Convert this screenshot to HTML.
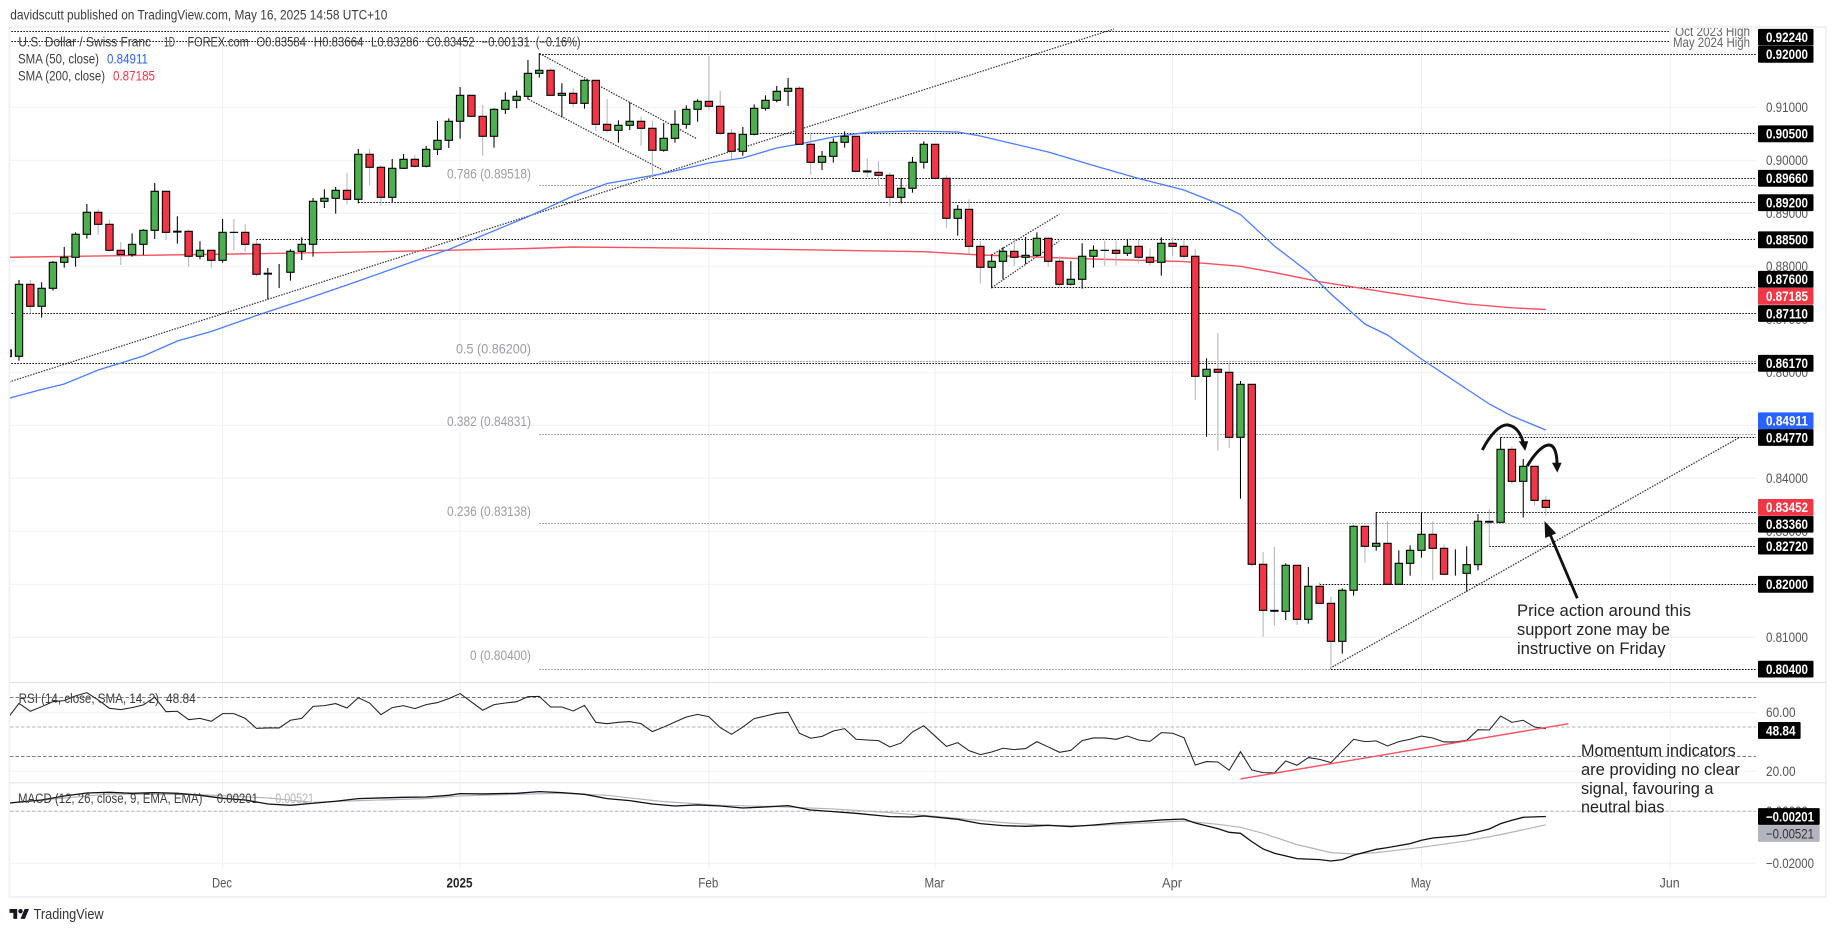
<!DOCTYPE html>
<html lang="en">
<head>
<meta charset="utf-8">
<title>USD/CHF daily chart</title>
<style>
html,body{margin:0;padding:0;background:#fff;width:1835px;height:932px;overflow:hidden}
svg{display:block;font-family:"Liberation Sans",sans-serif}
</style>
</head>
<body>
<svg id="chart" xmlns="http://www.w3.org/2000/svg" width="1835" height="932" viewBox="0 0 1835 932">
  <defs>
    <clipPath id="clip-main"><rect x="10" y="28" width="1746" height="654"/></clipPath>
    <clipPath id="clip-rsi"><rect x="10" y="683" width="1746" height="99"/></clipPath>
    <clipPath id="clip-macd"><rect x="10" y="783" width="1746" height="86"/></clipPath>
  </defs>
  <rect width="1835" height="932" fill="#fff"/>
  <text x="10.3" y="19.5" font-size="13.5" fill="#3c3c3c" textLength="377" lengthAdjust="spacingAndGlyphs">davidscutt published on TradingView.com, May 16, 2025 14:58 UTC+10</text>
  <g id="frame" fill="#eff1f5">
    <rect x="9" y="26" width="1818" height="2"/>
    <rect x="8.5" y="26" width="1.6" height="872"/>
    <rect x="1825" y="26" width="2" height="872"/>
    <rect x="9" y="896" width="1818" height="2"/>
  </g>
  <g id="grid"></g>
  <rect x="9" y="682" width="1817" height="1" fill="#e0e3eb"/>
  <rect x="9" y="782.3" width="1817" height="1" fill="#e0e3eb"/>
  <g id="levels" clip-path="url(#clip-main)"></g>
  <g clip-path="url(#clip-main)" fill="none" stroke="#333" stroke-width="1.2" stroke-dasharray="1.5 1.3">
    <line x1="9" y1="382" x2="1114" y2="29"/>
    <line x1="539.6" y1="53.5" x2="696" y2="138.3"/>
    <line x1="528.5" y1="99.3" x2="662.6" y2="170"/>
    <line x1="991.7" y1="255" x2="1059.3" y2="214.3"/>
    <line x1="991.7" y1="287.7" x2="1059.3" y2="241"/>
    <line x1="1330" y1="668.3" x2="1739.8" y2="437.3"/>
  </g>
  <g id="smas" clip-path="url(#clip-main)"></g>
  <g id="candles" clip-path="url(#clip-main)"></g>
  <g id="rsi" clip-path="url(#clip-rsi)"></g>
  <g id="macd" clip-path="url(#clip-macd)"></g>

  <g font-size="13.5" fill="#3c3c3c">
    <text x="18.4" y="46.5" textLength="132.6" lengthAdjust="spacingAndGlyphs">U.S. Dollar / Swiss Franc</text>
    <text x="164" y="46.5" textLength="11" lengthAdjust="spacingAndGlyphs">1D</text>
    <text x="187.5" y="46.5" textLength="61.3" lengthAdjust="spacingAndGlyphs">FOREX.com</text>
    <text x="256.4" y="46.5" textLength="49.6" lengthAdjust="spacingAndGlyphs">O0.83584</text>
    <text x="313.8" y="46.5" textLength="49.7" lengthAdjust="spacingAndGlyphs">H0.83664</text>
    <text x="371" y="46.5" textLength="47.7" lengthAdjust="spacingAndGlyphs">L0.83286</text>
    <text x="426.7" y="46.5" textLength="47.8" lengthAdjust="spacingAndGlyphs">C0.83452</text>
    <text x="481.4" y="46.5" textLength="48.6" lengthAdjust="spacingAndGlyphs">−0.00131</text>
    <text x="535.8" y="46.5" textLength="44.7" lengthAdjust="spacingAndGlyphs">(−0.16%)</text>
    <text x="18" y="63.5" textLength="81" lengthAdjust="spacingAndGlyphs">SMA (50, close)</text>
    <text x="107" y="63.5" fill="#2962ff" textLength="41" lengthAdjust="spacingAndGlyphs">0.84911</text>
    <text x="18" y="80.5" textLength="87" lengthAdjust="spacingAndGlyphs">SMA (200, close)</text>
    <text x="113" y="80.5" fill="#f23645" textLength="42" lengthAdjust="spacingAndGlyphs">0.87185</text>
    <text x="18.6" y="703" textLength="140.4" lengthAdjust="spacingAndGlyphs">RSI (14, close, SMA, 14, 2)</text>
    <text x="166" y="703" textLength="29.7" lengthAdjust="spacingAndGlyphs">48.84</text>
    <text x="18" y="803" textLength="184.5" lengthAdjust="spacingAndGlyphs">MACD (12, 26, close, 9, EMA, EMA)</text>
    <text x="216.7" y="803" textLength="41.3" lengthAdjust="spacingAndGlyphs">0.00201</text>
    <text x="269" y="803" fill="#b2b5be" textLength="45" lengthAdjust="spacingAndGlyphs">−0.00521</text>
  </g>

  <g font-size="13.5" fill="#9a9da6" text-anchor="end">
    <text x="531" y="178.5" textLength="84" lengthAdjust="spacingAndGlyphs">0.786 (0.89518)</text>
    <text x="531" y="353.5" textLength="75" lengthAdjust="spacingAndGlyphs">0.5 (0.86200)</text>
    <text x="531" y="426" textLength="84" lengthAdjust="spacingAndGlyphs">0.382 (0.84831)</text>
    <text x="531" y="516" textLength="84" lengthAdjust="spacingAndGlyphs">0.236 (0.83138)</text>
    <text x="531" y="660" textLength="61" lengthAdjust="spacingAndGlyphs">0 (0.80400)</text>
  </g>
  <g font-size="13.5" fill="#666" clip-path="url(#clip-main)">
    <text x="1675" y="36" textLength="75" lengthAdjust="spacingAndGlyphs">Oct 2023 High</text>
    <text x="1673" y="47" textLength="77" lengthAdjust="spacingAndGlyphs">May 2024 High</text>
  </g>

  <g font-size="17" fill="#222">
    <path d="M1482.3 450C1490 435 1500 424 1508 425C1516 426 1521 434 1523 442" fill="none" stroke="#111" stroke-width="3"/>
    <polygon points="1518.8,441.2 1528.2,441.2 1525.2,451" fill="#111"/>
    <path d="M1527.3 466C1533 456 1542 445 1549 445C1555 445 1557 455 1557 464" fill="none" stroke="#111" stroke-width="3"/>
    <polygon points="1552,462.8 1561.6,462.8 1557.3,472.6" fill="#111"/>
    <line x1="1577.3" y1="598.3" x2="1549.5" y2="533" stroke="#111" stroke-width="2.8"/>
    <polygon points="1544.5,521 1556.2,533.4 1545.2,538" fill="#111"/>
    <text x="1517" y="616" textLength="174" lengthAdjust="spacingAndGlyphs">Price action around this</text>
    <text x="1517" y="635" textLength="153" lengthAdjust="spacingAndGlyphs">support zone may be</text>
    <text x="1517" y="654" textLength="148.5" lengthAdjust="spacingAndGlyphs">instructive on Friday</text>
    <text x="1581" y="756" textLength="154.7" lengthAdjust="spacingAndGlyphs">Momentum indicators</text>
    <text x="1581" y="775" textLength="158.8" lengthAdjust="spacingAndGlyphs">are providing no clear</text>
    <text x="1581" y="794" textLength="132.4" lengthAdjust="spacingAndGlyphs">signal, favouring a</text>
    <text x="1581" y="812.7" textLength="83.4" lengthAdjust="spacingAndGlyphs">neutral bias</text>
  </g>

  <g id="axis"></g>
  <g id="bubbles"></g>

  <g>
    <g transform="translate(9.5 906.8) scale(.55)" fill="#131722">
      <path d="M14 22H7V11H0V4h14v18zM28 22h-8l7.5-18h8L28 22z"/>
      <circle cx="20" cy="8" r="4"/>
    </g>
    <text x="33.6" y="919" font-size="15" fill="#333" textLength="70" lengthAdjust="spacingAndGlyphs">TradingView</text>
  </g>
</svg>

<script>
// ---------- chart data ----------
const priceOpen = [0.86421,0.86302,0.87660,0.87245,0.87585,0.88075,0.88170,0.88604,0.89019,0.88792,0.88302,0.88220,0.88415,0.88679,0.89415,0.88646,0.88660,0.88189,0.88302,0.88113,0.88641,0.88641,0.88415,0.87853,0.87887,0.87887,0.88283,0.88415,0.89226,0.89283,0.89434,0.89264,0.90113,0.89868,0.89302,0.89849,0.90019,0.89887,0.90207,0.90377,0.90736,0.91226,0.90830,0.90453,0.90962,0.91132,0.91207,0.91641,0.91698,0.91226,0.91264,0.91075,0.91509,0.90679,0.90566,0.90660,0.90736,0.90604,0.90189,0.90415,0.90679,0.90962,0.91113,0.91019,0.90509,0.90170,0.90490,0.90981,0.91132,0.91302,0.91358,0.90302,0.89962,0.90075,0.90339,0.90453,0.89799,0.89773,0.89717,0.89302,0.89472,0.89962,0.90302,0.89660,0.88906,0.89075,0.88377,0.87981,0.88094,0.88283,0.88170,0.88207,0.88528,0.88094,0.87660,0.87755,0.88189,0.88302,0.88302,0.88245,0.88377,0.88170,0.88075,0.88434,0.88377,0.88189,0.85924,0.86057,0.86000,0.84773,0.85773,0.82377,0.81508,0.81490,0.82358,0.81339,0.81962,0.81641,0.80924,0.81887,0.83094,0.82717,0.82773,0.82000,0.82396,0.82641,0.82943,0.82679,0.82201,0.82207,0.82371,0.83188,0.83170,0.84547,0.83943,0.84226,0.83584];
const priceHigh = [0.86421,0.87742,0.87742,0.87698,0.88101,0.88365,0.88641,0.89176,0.89075,0.88874,0.88459,0.88622,0.88698,0.89572,0.89415,0.88943,0.88698,0.88472,0.88302,0.88893,0.88893,0.88799,0.88497,0.87968,0.88044,0.88321,0.88547,0.89289,0.89453,0.89497,0.89761,0.90214,0.90214,0.89912,0.90025,0.90119,0.90100,0.90270,0.90742,0.90792,0.91383,0.91226,0.91044,0.90981,0.91283,0.91314,0.91893,0.92019,0.91736,0.91453,0.91358,0.91528,0.91509,0.91157,0.90755,0.91094,0.90824,0.90742,0.90704,0.90943,0.91038,0.91151,0.91968,0.91308,0.90585,0.90629,0.91056,0.91226,0.91402,0.91553,0.91402,0.90509,0.90176,0.90415,0.90547,0.90453,0.90044,0.89981,0.89773,0.89660,0.90063,0.90358,0.90302,0.89717,0.89157,0.89264,0.88472,0.88226,0.88358,0.88534,0.88553,0.88641,0.88547,0.88195,0.88101,0.88434,0.88396,0.88484,0.88484,0.88509,0.88497,0.88339,0.88547,0.88547,0.88490,0.88327,0.86264,0.86742,0.86170,0.85836,0.85773,0.82610,0.82704,0.82396,0.82358,0.82327,0.82038,0.81767,0.81924,0.83113,0.83094,0.83358,0.83189,0.82641,0.82736,0.83358,0.83189,0.82755,0.82660,0.82717,0.83327,0.83415,0.84773,0.84604,0.84365,0.84226,0.83664];
const priceLow = [0.86296,0.86220,0.87113,0.87031,0.87541,0.87975,0.87994,0.88522,0.88597,0.88277,0.88025,0.88182,0.88214,0.88516,0.88497,0.88428,0.87994,0.88132,0.87975,0.88069,0.88308,0.88264,0.87805,0.87377,0.87591,0.87729,0.88119,0.88182,0.89100,0.88994,0.89163,0.89189,0.89522,0.89145,0.89207,0.89836,0.89861,0.89868,0.90100,0.90233,0.90409,0.90811,0.90088,0.90239,0.90874,0.90981,0.91151,0.91560,0.91220,0.90811,0.91012,0.90975,0.90553,0.90522,0.90333,0.90572,0.90270,0.89692,0.90163,0.90333,0.90597,0.90729,0.90937,0.90478,0.90025,0.90088,0.90472,0.90937,0.91094,0.91025,0.90296,0.89729,0.89817,0.89956,0.90239,0.89773,0.89685,0.89534,0.89126,0.89189,0.89390,0.89843,0.89654,0.88723,0.88578,0.88245,0.87673,0.87585,0.87755,0.88006,0.88038,0.88182,0.87994,0.87604,0.87641,0.87578,0.87975,0.88012,0.88012,0.88195,0.88056,0.88012,0.87824,0.88189,0.88132,0.85478,0.84786,0.84522,0.84572,0.83616,0.82333,0.81012,0.81220,0.81327,0.81233,0.81258,0.81641,0.80415,0.80692,0.81786,0.82409,0.82635,0.82000,0.82000,0.82163,0.82503,0.82075,0.82170,0.82163,0.81861,0.82264,0.82717,0.83170,0.83887,0.83258,0.83484,0.83286];
const priceClose = [0.86296,0.87660,0.87245,0.87585,0.88075,0.88170,0.88604,0.89019,0.88792,0.88302,0.88220,0.88415,0.88679,0.89415,0.88641,0.88662,0.88189,0.88302,0.88113,0.88641,0.88640,0.88415,0.87849,0.87869,0.87887,0.88283,0.88415,0.89226,0.89283,0.89434,0.89264,0.90113,0.89868,0.89302,0.89849,0.90019,0.89887,0.90207,0.90377,0.90736,0.91226,0.90830,0.90453,0.90962,0.91132,0.91207,0.91641,0.91698,0.91226,0.91264,0.91075,0.91509,0.90679,0.90566,0.90660,0.90736,0.90604,0.90189,0.90415,0.90679,0.90962,0.91113,0.91019,0.90509,0.90170,0.90490,0.90981,0.91132,0.91302,0.91358,0.90302,0.89962,0.90075,0.90339,0.90453,0.89792,0.89780,0.89717,0.89302,0.89472,0.89962,0.90302,0.89660,0.88906,0.89075,0.88377,0.87981,0.88094,0.88283,0.88170,0.88207,0.88528,0.88094,0.87660,0.87755,0.88189,0.88302,0.88300,0.88245,0.88377,0.88170,0.88075,0.88434,0.88377,0.88189,0.85924,0.86057,0.86000,0.84773,0.85773,0.82377,0.81509,0.81492,0.82358,0.81339,0.81962,0.81641,0.80924,0.81887,0.83094,0.82717,0.82773,0.82000,0.82396,0.82641,0.82943,0.82679,0.82189,0.82201,0.82371,0.83189,0.83172,0.84547,0.83943,0.84226,0.83584,0.83452];

const sma50Bars = [0,3,5,8,12,15,18,22,26,30,37,39,46,50,53,58,62,65,68,70,73,76,80,84,86,89,92,96,100,104,107,109,112,115,117,120,122,125,128,131,133,136];
const sma50Values = [0.85504,0.85675,0.85779,0.86043,0.86308,0.86591,0.8677,0.87072,0.87355,0.87647,0.88175,0.88317,0.88936,0.89326,0.89562,0.89751,0.89949,0.90043,0.90232,0.90308,0.9044,0.90528,0.90553,0.90534,0.90458,0.90308,0.90157,0.89902,0.89657,0.8944,0.89185,0.88977,0.88383,0.87892,0.87477,0.86911,0.86704,0.86251,0.85826,0.85402,0.85175,0.84911];
const sma200Bars = [0,20,33,46,50,60,70,81,86,96,104,109,112,116,122,129,133,136];
const sma200Values = [0.8817,0.88232,0.88275,0.88336,0.88364,0.88345,0.88313,0.88275,0.88213,0.88138,0.8809,0.88,0.87883,0.87709,0.87506,0.87289,0.87217,0.87185];

const rsiValues = [55.9,66.1,60.7,63.8,67.2,67.9,71.1,73.3,68.4,62.7,61.8,63.2,65,70.2,60.4,60.7,55,55.9,53.9,59.1,59.1,55.9,49.1,49.4,49.4,54.6,55.9,64,64.5,65.9,62.9,69.9,66.3,58.4,63.2,64.5,62.5,65.2,66.6,69.3,72.7,67,61.4,65.2,66.3,67.2,70.6,70.8,63.6,63.6,60.9,64.7,53.2,52.3,53.2,53.7,52.3,46.9,50,53.4,56.8,58.6,57,49.6,45.1,50,55.7,57.5,59.3,60,45.8,42.4,43.7,47.3,48.9,41.7,41.2,40.8,36.5,39.2,46.7,50.9,43.9,36.9,39.4,34,31.3,33.1,35.6,34.7,35.4,40.1,36.5,32.9,34.2,40.8,42.6,42.6,41.7,43.9,41.2,40.3,46.2,45.8,42.8,24.3,26.6,26.3,20.7,33.3,20.9,19.1,18.9,27,24.1,29.3,28.1,25.9,33.8,41.7,40.1,40.6,37.2,40.1,41.7,43.9,42.6,39.9,39.9,41,48.2,48,57.5,53.2,54.6,50,48.84];

const macdBars = [0,1,3,5,7,9,11,13,15,17,19,21,23,25,27,29,31,33,35,37,39,40,42,45,47,49,51,53,55,57,59,61,63,65,67,69,71,73,75,78,80,81,84,86,88,90,92,94,96,98,100,102,104,105,107,108,109,110,111,112,114,116,117,118,119,121,122,124,125,126,128,129,131,132,133,134,135,136];
const macdValues = [0.00308,0.00359,0.00436,0.0059,0.00705,0.00731,0.00692,0.00718,0.00692,0.00615,0.005,0.00436,0.00282,0.00231,0.00308,0.00385,0.00487,0.00513,0.00538,0.00551,0.00615,0.00679,0.00667,0.00692,0.00756,0.00718,0.00654,0.00487,0.0041,0.00282,0.00205,0.00244,0.00205,0.00128,0.00167,0.00218,0.00051,-0.00013,-0.00077,-0.00205,-0.00218,-0.00179,-0.00308,-0.00474,-0.00551,-0.00577,-0.00538,-0.0059,-0.00526,-0.00449,-0.00397,-0.00333,-0.00295,-0.00449,-0.00667,-0.00808,-0.00846,-0.01167,-0.01449,-0.01615,-0.01821,-0.01859,-0.0191,-0.01859,-0.01692,-0.01462,-0.01397,-0.01244,-0.01115,-0.01026,-0.00949,-0.00897,-0.00679,-0.00474,-0.00346,-0.00231,-0.00215,-0.00201];
const signalBars = [0,9,17,23,27,31,37,40,45,49,53,55,58,63,68,73,78,83,88,92,96,100,104,107,109,111,114,117,119,121,125,129,132,136];
const signalValues = [0.00308,0.00667,0.00641,0.00513,0.00346,0.0041,0.00487,0.0059,0.00654,0.00692,0.00615,0.00513,0.00372,0.00231,0.00179,0.0009,-0.00051,-0.00231,-0.00436,-0.00538,-0.00551,-0.00462,-0.00372,-0.005,-0.00615,-0.00846,-0.01282,-0.0159,-0.01641,-0.0159,-0.01385,-0.01141,-0.00897,-0.00521];

const priceTicks = [0.91,0.90,0.89,0.88,0.87,0.86,0.85,0.84,0.83,0.82,0.81];
const priceTickLabels = ['0.91000','0.90000','0.89000','0.88000','0.87000','0.86000','0.85000','0.84000','0.83000','0.82000','0.81000'];
const rsiTicks = [60,20];
const rsiTickLabels = ['60.00','20.00'];
const rsiBands = [70,50,30];
const macdTicks = [0,-0.02];
const macdTickLabels = ['0.00000','−0.02000'];
const timeTickBars = [19,40,62,82,103,125,147];
const timeTickLabels = ['Dec','2025','Feb','Mar','Apr','May','Jun'];

const levelPrices = [0.9243,0.9224,0.92,0.905,0.8966,0.892,0.885,0.876,0.8711,0.8617,0.8477,0.8336,0.8272,0.82,0.804];
const levelStartBars = [-1,-1,47,65.7,57,31,22,87,-1,-1,132,121,131,116,117];
const fibPrices = [0.89518,0.862,0.84831,0.83138,0.804];
const fibStartBar = 47;

const levelTagValues = [0.9224,0.92,0.905,0.8966,0.892,0.885,0.876,0.8711,0.8617,0.8477,0.8336,0.8272,0.82,0.804];
const levelTagLabels = ['0.92240','0.92000','0.90500','0.89660','0.89200','0.88500','0.87600','0.87110','0.86170','0.84770','0.83360','0.82720','0.82000','0.80400'];
const sma50Last = 0.84911;
const sma200Last = 0.87185;
const closeLast = 0.83452;
const rsiLast = 48.84;
const macdLast = -0.00201;
const signalLast = -0.00521;
const rsiTrendBars = [109,138];
const rsiTrendValues = [14.8,52.3];

// ---------- axis functions ----------
const xOf = i => 7.69 + 11.31 * i;
const yPrice = p => 319.3 + (0.87 - p) * 5300;
const yRsi = v => 712.3 + (60 - v) * 1.475;
const yMacd = v => 811.3 - v * 2600;
const AXIS_RIGHT = 1756;

const NS = 'http://www.w3.org/2000/svg';
function mk(tag, attrs, parent) {
  const el = document.createElementNS(NS, tag);
  for (const k in attrs) el.setAttribute(k, attrs[k]);
  parent.appendChild(el);
  return el;
}
function pointsOf(bars, vals, yFn) {
  return bars.map((b, j) => xOf(b).toFixed(2) + ',' + yFn(vals[j]).toFixed(2)).join(' ');
}
const gGrid = document.getElementById('grid');
const gLevels = document.getElementById('levels');
const gSmas = document.getElementById('smas');
const gCandles = document.getElementById('candles');
const gRsi = document.getElementById('rsi');
const gMacd = document.getElementById('macd');
const gAxis = document.getElementById('axis');
const gBubbles = document.getElementById('bubbles');

// grid
timeTickBars.forEach((b, j) => {
  const l = mk('line', {x1: xOf(b), x2: xOf(b), y1: 28, y2: 869, stroke: '#eef0f4', 'stroke-width': 1}, gGrid);
  
  
});
priceTicks.forEach((p, j) => {
  const l = mk('line', {x1: 10, x2: AXIS_RIGHT, y1: yPrice(p), y2: yPrice(p), stroke: '#f0f2f6', 'stroke-width': 1.2}, gGrid);
  
  
  const t = mk('text', {x: 1766, y: yPrice(p) + 4.8, 'font-size': 13.5, fill: '#555', textLength: 42, lengthAdjust: 'spacingAndGlyphs'}, gAxis);
  t.textContent = priceTickLabels[j];
  
  
});
rsiTicks.forEach((v, j) => {
  const l = mk('line', {x1: 10, x2: AXIS_RIGHT, y1: yRsi(v), y2: yRsi(v), stroke: '#f0f2f6', 'stroke-width': 1.2}, gGrid);
  
  
  const t = mk('text', {x: 1766, y: yRsi(v) + 4.8, 'font-size': 13.5, fill: '#555', textLength: 29.6, lengthAdjust: 'spacingAndGlyphs'}, gAxis);
  t.textContent = rsiTickLabels[j];
  
  
});
macdTicks.forEach((v, j) => {
  const l = mk('line', {x1: 10, x2: AXIS_RIGHT, y1: yMacd(v), y2: yMacd(v), stroke: '#f0f2f6', 'stroke-width': 1.2}, gGrid);
  
  
  const t = mk('text', {x: 1766, y: yMacd(v) + 4.8, 'font-size': 13.5, fill: '#555', textLength: macdTickLabels[j].length > 7 ? 48 : 42, lengthAdjust: 'spacingAndGlyphs'}, gAxis);
  t.textContent = macdTickLabels[j];
  
  
});
timeTickBars.forEach((b, j) => {
  const isYear = timeTickLabels[j] === '2025';
  const t = mk('text', {x: xOf(b) - 0.6, y: 887.5, 'font-size': 13.5, fill: isYear ? '#222' : '#555', 'text-anchor': 'middle', 'font-weight': isYear ? 'bold' : 'normal', textLength: isYear ? 26 : 20, lengthAdjust: 'spacingAndGlyphs'}, gAxis);
  t.textContent = timeTickLabels[j];
  
  
});

// horizontal levels (snapped to the pixel grid so dots stay crisp)
const snap = y => Math.floor(y) + 0.5;
fibPrices.forEach(p => {
  const l = mk('line', {x1: xOf(fibStartBar), x2: AXIS_RIGHT, y1: snap(yPrice(p)), y2: snap(yPrice(p)), stroke: '#8a8d96', 'stroke-width': 1, 'stroke-dasharray': '1.5 1.5'}, gLevels);
  
  
});
levelPrices.forEach((p, j) => {
  const top = p > 0.9222;
  const end = top ? 1670 : AXIS_RIGHT;
  const l = mk('line', {x1: xOf(levelStartBars[j]), x2: end, y1: snap(yPrice(p)), y2: snap(yPrice(p)), stroke: '#000', 'stroke-width': 1, 'stroke-dasharray': '1.5 1.5'}, gLevels);
  
  
});

// moving averages
const sma200Line = mk('polyline', {points: pointsOf(sma200Bars, sma200Values, yPrice), fill: 'none', stroke: '#f7525f', 'stroke-width': 1.4}, gSmas);


const sma50Line = mk('polyline', {points: pointsOf(sma50Bars, sma50Values, yPrice), fill: 'none', stroke: '#4a7dff', 'stroke-width': 1.3}, gSmas);



// candles
priceOpen.forEach((o, i) => {
  const c = priceClose[i];
  const x = xOf(i);
  const g = mk('g', {}, gCandles);
  
  
  const wick = mk('line', {x1: x, x2: x, y1: yPrice(priceHigh[i]), y2: yPrice(priceLow[i]), stroke: c >= o ? '#000' : '#b2b5be', 'stroke-width': 1.05}, g);
  
  
  const top = yPrice(Math.max(o, c));
  const bot = yPrice(Math.min(o, c));
  const body = mk('rect', {x: x - 3.65, width: 7.3, y: top, height: Math.max(bot - top, 0), fill: c > o ? '#4caf50' : '#f23645', stroke: '#000', 'stroke-width': 1.1}, g);
  
  
});

// RSI
rsiBands.forEach(v => {
  const l = mk('line', {x1: 10, x2: AXIS_RIGHT, y1: yRsi(v), y2: yRsi(v), stroke: v === 50 ? '#b2b5be' : '#787b86', 'stroke-width': 1, 'stroke-dasharray': '3.5 2'}, gRsi);
  
  
});
const rsiLine = mk('polyline', {points: rsiValues.map((v, i) => xOf(i).toFixed(2) + ',' + yRsi(v).toFixed(2)).join(' '), fill: 'none', stroke: '#222', 'stroke-width': 1.05}, gRsi);


const rsiTrend = mk('polyline', {points: pointsOf(rsiTrendBars, rsiTrendValues, yRsi), fill: 'none', stroke: '#f7525f', 'stroke-width': 1.4}, gRsi);



// MACD
const macdZero = mk('line', {x1: 10, x2: AXIS_RIGHT, y1: yMacd(0), y2: yMacd(0), stroke: '#b2b5be', 'stroke-width': 1, 'stroke-dasharray': '3.5 2'}, gMacd);


const signalLine = mk('polyline', {points: pointsOf(signalBars, signalValues, yMacd), fill: 'none', stroke: '#b2b5be', 'stroke-width': 1.2}, gMacd);


const macdLine = mk('polyline', {points: pointsOf(macdBars, macdValues, yMacd), fill: 'none', stroke: '#111', 'stroke-width': 1.3}, gMacd);



// price-scale tags
function tag(cy, label, bg, fg, w, tw) {
  const g = mk('g', {}, gBubbles);
  
  
  const r = mk('rect', {x: 1758, y: cy - 8.4, width: w, height: 16.8, fill: bg, rx: 1}, g);
  
  
  const t = mk('text', {x: 1766, y: cy + 4.8, 'font-size': 13.5, fill: fg, textLength: tw, lengthAdjust: 'spacingAndGlyphs', 'font-weight': fg === '#fff' ? 'bold' : 'normal'}, g);
  t.textContent = label;
  
  
}
// label-collision offsets, as the price scale stacks overlapping tags
function tagShift(v) {
  if (v === 0.9224) return -4.3;
  if (v === 0.876) return -8.2;
  if (v === 0.8336) return 12;
  return 0;
}
levelTagValues.forEach((v, j) => {
  tag(yPrice(v) + tagShift(v), levelTagLabels[j], '#000', '#fff', 55.5, 42);
});
tag(yPrice(sma200Last) - 13.2, sma200Last.toFixed(5), '#f23645', '#fff', 55.5, 42);
tag(yPrice(sma50Last) - 9.3, sma50Last.toFixed(5), '#2962ff', '#fff', 55.5, 42);
tag(yPrice(closeLast), closeLast.toFixed(5), '#f23645', '#fff', 55.5, 42);
tag(yRsi(rsiLast) + 1.7, rsiLast.toFixed(2), '#000', '#fff', 42.6, 29.6);
tag(yMacd(macdLast), '−' + Math.abs(macdLast).toFixed(5), '#000', '#fff', 61.7, 48);
tag(yMacd(macdLast) + 17, '−' + Math.abs(signalLast).toFixed(5), '#b2b5be', '#333', 61.7, 48);
</script>
</body>
</html>
